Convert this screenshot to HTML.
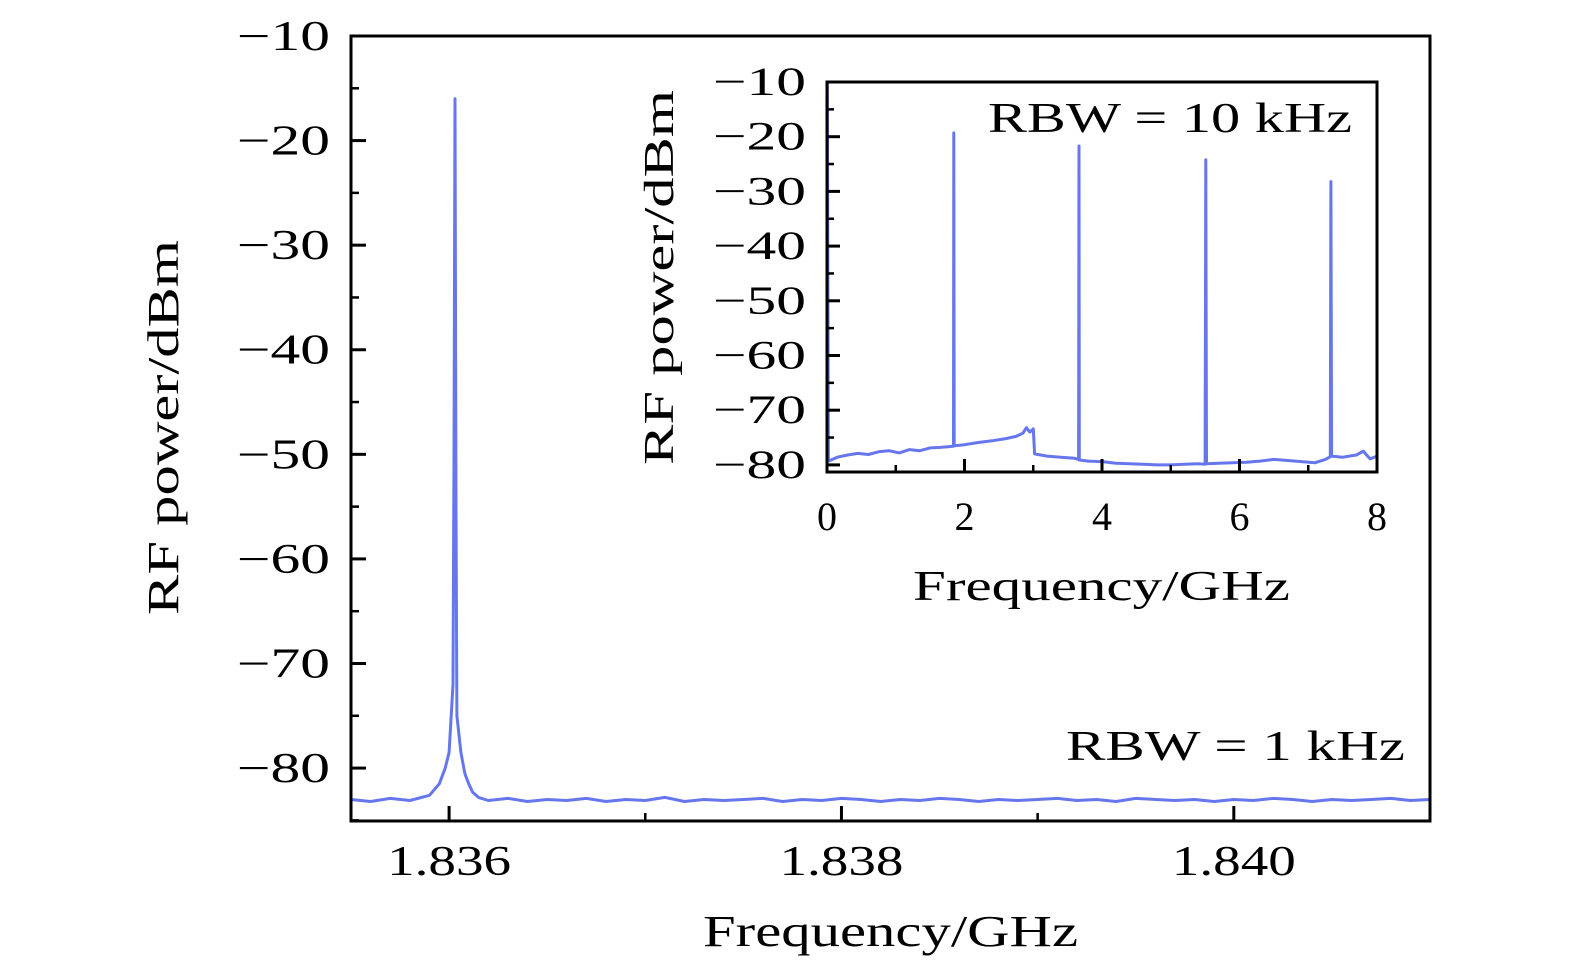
<!DOCTYPE html>
<html><head><meta charset="utf-8"><style>
html,body{margin:0;padding:0;background:#fff}
svg{display:block}
text{font-family:"Liberation Serif","DejaVu Serif",serif;fill:#000}
</style></head><body>
<svg id="chart" width="1575" height="974" viewBox="0 0 1575 974" xmlns="http://www.w3.org/2000/svg"></svg>
<script>
// Main chart data
const mainFreq = [1.8355,1.8356,1.8357,1.8358,1.8359,1.83595,1.83598,1.836,1.83602,1.836025,1.83603,1.836035,1.83604,1.83606,1.83608,1.8361,1.83612,1.83615,1.8362,1.8363,1.8364,1.8365,1.8366,1.8367,1.8368,1.8369,1.837,1.8371,1.8372,1.8373,1.8374,1.8375,1.8376,1.8377,1.8378,1.8379,1.838,1.8381,1.8382,1.8383,1.8384,1.8385,1.8386,1.8387,1.8388,1.8389,1.839,1.8391,1.8392,1.8393,1.8394,1.8395,1.8396,1.8397,1.8398,1.8399,1.84,1.8401,1.8402,1.8403,1.8404,1.8405,1.8406,1.8407,1.8408,1.8409,1.841];
const mainPower = [-83,-83.2,-82.9,-83.1,-82.6,-81.5,-80,-78.5,-72,-50,-16,-55,-75,-78.5,-80.5,-81.5,-82.3,-82.8,-83.1,-82.9,-83.2,-83,-83.1,-82.9,-83.2,-83,-83.1,-82.8,-83.2,-83,-83.1,-83,-82.9,-83.2,-83,-83.1,-82.9,-83,-83.2,-83,-83.1,-82.9,-83,-83.2,-83,-83.1,-83,-82.9,-83.1,-83,-83.2,-82.9,-83,-83.1,-83,-83.2,-83,-83.1,-82.9,-83,-83.2,-83,-83.1,-83,-82.9,-83.1,-83];
const mainYTicks = [-10,-20,-30,-40,-50,-60,-70,-80];
const mainXTicks = [1.836,1.838,1.840];
const mainXTickLabels = ["1.836","1.838","1.840"];
// Inset data
const insetFreq = [0,0.005,0.02,0.15,0.3,0.45,0.6,0.75,0.9,1.05,1.2,1.35,1.5,1.65,1.84,1.845,1.85,1.855,2.0,2.2,2.4,2.6,2.75,2.85,2.9,2.95,3.0,3.02,3.2,3.4,3.6,3.66,3.665,3.67,3.8,4.0,4.2,4.4,4.6,4.8,5.0,5.2,5.4,5.5,5.51,5.52,5.7,5.9,6.1,6.3,6.5,6.7,6.9,7.1,7.25,7.32,7.33,7.34,7.5,7.7,7.8,7.9,8.0];
const insetPower = [-79,-10,-79.3,-78.6,-78.2,-77.9,-78.1,-77.6,-77.4,-77.8,-77.2,-77.4,-76.9,-76.8,-76.6,-19.3,-76.4,-76.5,-76.3,-75.9,-75.6,-75.2,-74.8,-74.2,-73.2,-74.0,-73.4,-78.0,-78.4,-78.6,-78.8,-79.0,-21.7,-79.1,-79.3,-79.4,-79.7,-79.8,-79.9,-80.0,-80.0,-79.9,-79.8,-79.9,-24.2,-79.8,-79.7,-79.6,-79.5,-79.3,-79.0,-79.2,-79.4,-79.6,-79.0,-78.5,-28.2,-78.4,-78.6,-78.2,-77.5,-78.9,-78.4];
const insetYTicks = [-10,-20,-30,-40,-50,-60,-70,-80];
const insetXTicks = [0,2,4,6,8];

const svg = document.getElementById('chart');
const NS = 'http://www.w3.org/2000/svg';
function mk(tag, attrs, parent){const e=document.createElementNS(NS,tag);for(const k in attrs)e.setAttribute(k,attrs[k]);(parent||svg).appendChild(e);return e;}
const fmt = v => v<0 ? '\u2212' + Math.abs(v) : String(v);

// ---- main axes
const M = {x0:351,x1:1430,y0:36,y1:821,fmin:1.8355,fmax:1.841,pmin:-85.06,pmax:-10};
const mx = f => M.x0 + (f-M.fmin)/(M.fmax-M.fmin)*(M.x1-M.x0);
const my = p => M.y1 - (p-M.pmin)/(M.pmax-M.pmin)*(M.y1-M.y0);

const mainG = mk('g',{});


let d='';
mainFreq.forEach((f,i)=>{d+=(i?'L':'M')+mx(f).toFixed(1)+' '+my(mainPower[i]).toFixed(1);});
const ml = mk('path',{d:d,fill:'none',stroke:'#6677ee','stroke-width':3,'stroke-linejoin':'round'},mainG);



mainYTicks.forEach(v=>{
  const y=my(v);
  mk('line',{x1:M.x0,x2:M.x0+15,y1:y,y2:y,stroke:'#000','stroke-width':3},mainG);
  const ym=my(v-5);
  if(v-5>M.pmin) mk('line',{x1:M.x0,x2:M.x0+8,y1:ym,y2:ym,stroke:'#000','stroke-width':2.5},mainG);
  const t=mk('text',{x:237,y:y+14,'font-size':42,textLength:93,lengthAdjust:'spacingAndGlyphs'},mainG);
  t.textContent=fmt(v);
  
  
});
[1.837,1.839].forEach(f=>{mk('line',{x1:mx(f),x2:mx(f),y1:M.y1,y2:M.y1-8,stroke:'#000','stroke-width':2.5},mainG);});
mainXTicks.forEach((f,i)=>{
  const x=mx(f);
  mk('line',{x1:x,x2:x,y1:M.y1,y2:M.y1-15,stroke:'#000','stroke-width':3},mainG);
  const t=mk('text',{x:x-62,y:875,'font-size':42,textLength:124,lengthAdjust:'spacingAndGlyphs'},mainG);
  t.textContent=mainXTickLabels[i];
  
  
});
mk('rect',{x:M.x0,y:M.y0,width:M.x1-M.x0,height:M.y1-M.y0,fill:'none',stroke:'#000','stroke-width':3},mainG);
let t=mk('text',{x:703,y:946,'font-size':44,textLength:375,lengthAdjust:'spacingAndGlyphs'},mainG);
t.textContent='Frequency/GHz';


t=mk('text',{x:-615,y:178,'font-size':44,textLength:375,lengthAdjust:'spacingAndGlyphs',transform:'rotate(-90)'},mainG);
t.textContent='RF power/dBm';


t=mk('text',{x:1066,y:760,'font-size':42,textLength:339,lengthAdjust:'spacingAndGlyphs'},mainG);
t.textContent='RBW = 1 kHz';



// ---- inset
const I = {x0:827,x1:1377,y0:82,y1:472,fmin:0,fmax:8,pmin:-81.3,pmax:-10};
const ix = f => I.x0 + (f-I.fmin)/(I.fmax-I.fmin)*(I.x1-I.x0);
const iy = p => I.y1 - (p-I.pmin)/(I.pmax-I.pmin)*(I.y1-I.y0);
const inG = mk('g',{});


mk('rect',{x:I.x0,y:I.y0,width:I.x1-I.x0,height:I.y1-I.y0,fill:'#fff',stroke:'none'},inG);
d='';
insetFreq.forEach((f,i)=>{d+=(i?'L':'M')+ix(f).toFixed(1)+' '+iy(insetPower[i]).toFixed(1);});
const il=mk('path',{d:d,fill:'none',stroke:'#6677ee','stroke-width':3,'stroke-linejoin':'round'},inG);


insetYTicks.forEach(v=>{
  const y=iy(v);
  mk('line',{x1:I.x0,x2:I.x0+13,y1:y,y2:y,stroke:'#000','stroke-width':3},inG);
  const ym=iy(v-5);
  if(v-5>I.pmin) mk('line',{x1:I.x0,x2:I.x0+7,y1:ym,y2:ym,stroke:'#000','stroke-width':2.5},inG);
  const tt=mk('text',{x:713,y:y+13,'font-size':40,textLength:93,lengthAdjust:'spacingAndGlyphs'},inG);
  tt.textContent=fmt(v);
  
  
});
[1,3,5,7].forEach(f=>{mk('line',{x1:ix(f),x2:ix(f),y1:I.y1,y2:I.y1-7,stroke:'#000','stroke-width':2.5},inG);});
insetXTicks.forEach(f=>{
  const x=ix(f);
  mk('line',{x1:x,x2:x,y1:I.y1,y2:I.y1-13,stroke:'#000','stroke-width':3},inG);
  const tt=mk('text',{x:x,y:530,'text-anchor':'middle','font-size':40},inG);
  tt.textContent=String(f);
  
  
});
mk('rect',{x:I.x0,y:I.y0,width:I.x1-I.x0,height:I.y1-I.y0,fill:'none',stroke:'#000','stroke-width':3},inG);
t=mk('text',{x:913,y:600,'font-size':42,textLength:377,lengthAdjust:'spacingAndGlyphs'},inG);
t.textContent='Frequency/GHz';


t=mk('text',{x:-465,y:673,'font-size':42,textLength:375,lengthAdjust:'spacingAndGlyphs',transform:'rotate(-90)'},inG);
t.textContent='RF power/dBm';


t=mk('text',{x:988,y:132,'font-size':42,textLength:364,lengthAdjust:'spacingAndGlyphs'},inG);
t.textContent='RBW = 10 kHz';


</script>
</body></html>
